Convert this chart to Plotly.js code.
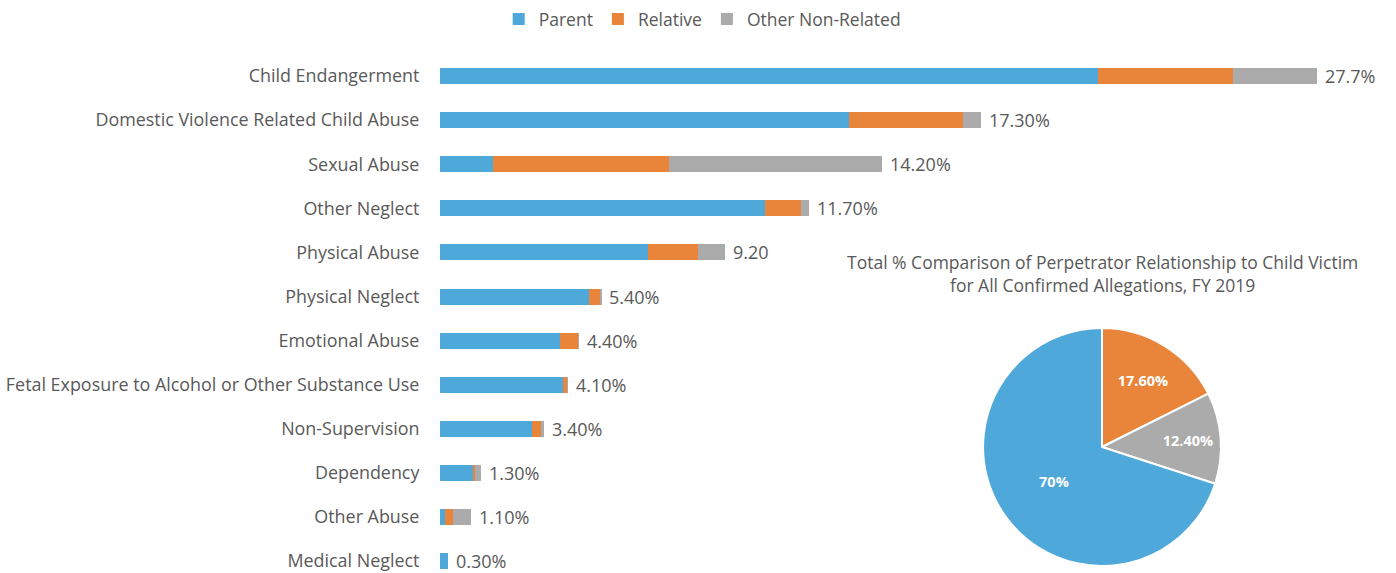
<!DOCTYPE html>
<html>
<head>
<meta charset="utf-8">
<script src="https://cdn.plot.ly/plotly-3.0.1.min.js"></script>
<style>html,body{margin:0;padding:0;background:#fff;}#chart{width:1396px;height:573px;}</style>
</head>
<body>
<div id="chart"></div>
<script>
// ---- data ----
const categories = [
  "Child Endangerment",
  "Domestic Violence Related Child Abuse",
  "Sexual Abuse",
  "Other Neglect",
  "Physical Abuse",
  "Physical Neglect",
  "Emotional Abuse",
  "Fetal Exposure to Alcohol or Other Substance Use",
  "Non-Supervision",
  "Dependency",
  "Other Abuse",
  "Medical Neglect"
];
const parentValues   = [20.79, 12.91, 1.67, 10.27, 6.58, 4.72, 3.79, 3.89, 2.92, 1.03, 0.16, 0.25];
const relativeValues = [4.26, 3.62, 5.55, 1.13, 1.56, 0.35, 0.57, 0.13, 0.27, 0.08, 0.24, 0];
const otherValues    = [2.65, 0.55, 6.73, 0.26, 0.87, 0.02, 0.03, 0.01, 0.09, 0.18, 0.58, 0];
const totalLabels = ["27.7%", "17.30%", "14.20%", "11.70%", "9.20", "5.40%", "4.40%", "4.10%", "3.40%", "1.30%", "1.10%", "0.30%"];

const seriesNames = ["Parent", "Relative", "Other Non-Related"];
const pieLabels = ["Relative", "Other Non-Related", "Parent"];
const pieValues = [17.6, 12.4, 70];
const pieText = ["17.60%", "12.40%", "70%"];
const pieTitle = "Total % Comparison of Perpetrator Relationship to Child Victim<br>for All Confirmed Allegations, FY 2019";

// ---- style ----
const COLORS = {"Parent": "#4FA8DA", "Relative": "#E8853B", "Other Non-Related": "#ABABAB"};
const TEXT = "#595959";
const FONT = "'Open Sans', Lato, sans-serif";

const seriesValues = [parentValues, relativeValues, otherValues];
const traces = seriesNames.map((name, i) => ({
  type: "bar",
  orientation: "h",
  name: name,
  x: seriesValues[i],
  y: categories,
  marker: {color: COLORS[name]},
  hoverinfo: "x+y+name"
}));

traces.push({
  type: "pie",
  labels: pieLabels,
  values: pieValues,
  text: pieText,
  textinfo: "text",
  textposition: "inside",
  insidetextfont: {color: "#ffffff", size: 14.5, family: FONT, weight: "bold"},
  marker: {colors: pieLabels.map(l => COLORS[l]), line: {color: "#ffffff", width: 2}},
  sort: false,
  direction: "clockwise",
  rotation: 0,
  showlegend: false,
  domain: {x: [0.7042, 0.8746], y: [0.0122, 0.4276]},
  hoverinfo: "label+percent"
});

const totals = categories.map((c, i) => parentValues[i] + relativeValues[i] + otherValues[i]);
const annotations = categories.map((c, i) => ({
  x: totals[i], y: c, xref: "x", yref: "y",
  text: totalLabels[i], showarrow: false,
  xanchor: "left", xshift: 6,
  font: {size: 18, color: TEXT, family: FONT}
}));
annotations.push({
  x: 0.7894, y: 1 - 273 / 573, xref: "paper", yref: "paper",
  text: pieTitle, showarrow: false, xanchor: "center", yanchor: "middle",
  font: {size: 17.5, color: TEXT, family: FONT}
});

const layout = {
  width: 1396, height: 573,
  margin: {l: 0, r: 0, t: 0, b: 0},
  paper_bgcolor: "#ffffff", plot_bgcolor: "rgba(0,0,0,0)",
  font: {family: FONT, color: TEXT},
  barmode: "stack",
  bargap: 0.637,
  showlegend: true,
  legend: {
    orientation: "h", x: 0.503, xanchor: "center", y: 0.998, yanchor: "top",
    font: {size: 17.5, color: TEXT, family: FONT}, itemwidth: 30, traceorder: "normal"
  },
  xaxis: {
    domain: [440 / 1396, 1], range: [0, 30.2],
    showgrid: false, zeroline: false, showline: false, showticklabels: false, ticks: ""
  },
  yaxis: {
    domain: [0, 519 / 573], range: [11.27, -0.5], type: "category",
    showgrid: false, zeroline: false, showline: false,
    ticks: "outside", ticklen: 16, tickcolor: "rgba(0,0,0,0)",
    tickfont: {size: 17.9, color: TEXT, family: FONT}, automargin: false
  },
  annotations: annotations
};

Plotly.newPlot("chart", traces, layout, {displayModeBar: false, responsive: false});
</script>
</body>
</html>
